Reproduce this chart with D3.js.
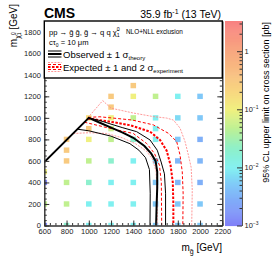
<!DOCTYPE html>
<html>
<head>
<meta charset="utf-8">
<script src="https://cdn.jsdelivr.net/npm/d3@7"></script>
<style>
  body { margin: 0; background: #fff; }
  svg { display: block; font-family: "Liberation Sans", Arial, Helvetica, sans-serif; }
</style>
</head>
<body>
<svg id="chart" width="274" height="263"></svg>
<script>
// Signal grid: gluino mass, neutralino mass, 95% CL upper limit (pb).
var cellMg = [
  600, 600, 600, 600,
  800, 800, 800, 800, 800, 800,
  1000, 1000, 1000, 1000, 1000, 1000, 1000,
  1200, 1200, 1200, 1200, 1200, 1200, 1200, 1200, 1200,
  1400, 1400, 1400, 1400, 1400, 1400, 1400, 1400,
  1600, 1600, 1600, 1600, 1600, 1600, 1600, 1600,
  1800, 1800, 1800, 1800, 1800, 1800, 1800,
  2000, 2000, 2000, 2000, 2000, 2000, 2000
];
var cellMchi = [
  0, 200, 400, 500,
  0, 200, 400, 600, 700, 800,
  0, 200, 400, 600, 800, 900, 1000,
  0, 200, 400, 600, 800, 900, 1000, 1100, 1200,
  0, 200, 400, 600, 800, 1000, 1200, 1300,
  0, 200, 400, 600, 800, 900, 1000, 1200,
  0, 200, 400, 600, 800, 1000, 1200,
  0, 200, 400, 600, 800, 1000, 1200
];
var cellLimit = [
  0.0013, 0.05, 0.0012, 0.1,
  0.02, 0.05, 0.05, 0.3, 0.3, 0.3,
  0.01, 0.01, 0.02, 0.05, 0.1, 0.3, 0.15,
  0.01, 0.01, 0.01, 0.02, 0.05, 0.06, 0.1, 0.3, 0.3,
  0.01, 0.01, 0.01, 0.01, 0.02, 0.05, 0.1, 0.3,
  0.005, 0.005, 0.005, 0.006, 0.01, 0.01, 0.01, 0.05,
  0.005, 0.005, 0.0035, 0.0035, 0.005, 0.007, 0.01,
  0.005, 0.005, 0.003, 0.0035, 0.003, 0.005, 0.005
];

// Exclusion contours as [m_gluino, m_neutralino] points.
var obsCurve = [[560, 550], [600, 590], [1000, 1000], [1100, 955], [1200, 910], [1300, 865], [1400, 815],
  [1500, 738], [1560, 670], [1600, 600], [1615, 500], [1615, 350], [1610, 200], [1605, 0]];
var obsUpCurve = [[995, 1000], [1100, 975], [1190, 945], [1300, 910], [1430, 872], [1550, 795],
  [1615, 700], [1650, 590], [1680, 480], [1690, 300], [1690, 0]];
var obsDownCurve = [[895, 895], [1000, 880], [1200, 830], [1370, 760], [1450, 700], [1510, 630],
  [1545, 520], [1552, 300], [1550, 0]];
var expCurve = [[990, 995], [1190, 965], [1370, 932], [1550, 872], [1640, 795], [1700, 695],
  [1735, 560], [1755, 400], [1760, 200], [1760, 0]];
var expUp1Curve = [[995, 1005], [1100, 1010], [1200, 1000], [1390, 980], [1580, 935], [1715, 857],
  [1790, 780], [1820, 655], [1840, 500], [1848, 300], [1845, 0]];
var expDown1Curve = [[960, 960], [1200, 900], [1400, 855], [1520, 762], [1590, 670], [1635, 560],
  [1652, 400], [1655, 0]];
var expUp2Curve = [[990, 1000], [1125, 1160], [1200, 1090], [1400, 1045], [1580, 1012], [1700, 998],
  [1760, 980], [1820, 905], [1865, 780], [1895, 655], [1920, 540], [1930, 330], [1925, 0]];
var expDown2Curve = [[860, 855], [1000, 862], [1160, 855], [1300, 815], [1420, 760], [1520, 690],
  [1575, 610], [1605, 500], [1615, 300], [1615, 0]];

// Axis ticks.
var xTicks = [600, 800, 1000, 1200, 1400, 1600, 1800, 2000, 2200];
var yTicks = [0, 200, 400, 600, 800, 1000, 1200, 1400, 1600, 1800];
var zTicks = [0.001, 0.01, 0.1, 1];
var zTickLabels = [['10', '\u22123'], ['10', '\u22122'], ['10', '\u22121'], ['1', '']];

// Palette stops along log10(limit).
var paletteStops = [-3, -2.6, -2.3, -2.0, -1.65, -1.3, -1.0, -0.7, -0.4, 0, 0.52];
var paletteColors = ['#8080f8', '#80a8f8', '#80c8f8', '#80f0f0', '#90f0c8', '#c0f090',
  '#f0f080', '#f8d880', '#f8c080', '#f8a880', '#f88080'];

var svg = d3.select('#chart');
var plotL = 44.3, plotR = 222.3, plotT = 21, plotB = 225.5;

var x = d3.scaleLinear().domain([600, 2200]).range([plotL, plotR]);
var y = d3.scaleLinear().domain([0, 1900]).range([plotB, plotT]);
var zMax = Math.pow(10, 0.52);
var z = d3.scaleLog().domain([0.001, zMax]).range([plotB, plotT]);
var palette = d3.scaleLinear().domain(paletteStops).range(paletteColors).clamp(true);
function color(v) { return palette(Math.log10(v)); }

svg.append('defs').append('clipPath').attr('id', 'plotclip')
  .append('rect').attr('x', plotL).attr('y', plotT).attr('width', plotR - plotL).attr('height', plotB - plotT);

var plot = svg.append('g').attr('clip-path', 'url(#plotclip)');

// Limit cells, 50 GeV bins centred on the grid points.
plot.selectAll('rect.cell')
  .data(d3.range(cellMg.length))
  .enter().append('rect')
    .attr('class', 'cell')
    .attr('x', function(i) { return x(cellMg[i] - 25); })
    .attr('y', function(i) { return y(cellMchi[i] + 25); })
    .attr('width', function(i) { return x(cellMg[i] + 25) - x(cellMg[i] - 25); })
    .attr('height', function(i) { return y(cellMchi[i] - 25) - y(cellMchi[i] + 25); })
    .attr('fill', function(i) { return color(cellLimit[i]); });

// Contours.
var line = d3.line().x(function(d) { return x(d[0]); }).y(function(d) { return y(d[1]); });
var curves = [
  { pts: expUp2Curve, stroke: '#ff8c8c', width: 0.9, dash: '2,1.2' },
  { pts: expDown2Curve, stroke: '#ff8c8c', width: 0.9, dash: '2,1.2' },
  { pts: expUp1Curve, stroke: '#ff0000', width: 1, dash: '3,2' },
  { pts: expDown1Curve, stroke: '#ff0000', width: 1, dash: '3,2' },
  { pts: expCurve, stroke: '#ff0000', width: 2, dash: '2.5,1.5' },
  { pts: obsUpCurve, stroke: '#000', width: 1, dash: null },
  { pts: obsDownCurve, stroke: '#000', width: 1, dash: null },
  { pts: obsCurve, stroke: '#000', width: 2, dash: null }
];
curves.forEach(function(c) {
  plot.append('path')
    .attr('d', line(c.pts))
    .attr('fill', 'none')
    .attr('stroke', c.stroke)
    .attr('stroke-width', c.width)
    .attr('stroke-dasharray', c.dash);
});

// Axes, with ROOT style ticks pointing inwards.
function styleAxis(g) {
  g.select('.domain').attr('stroke', '#333');
  g.selectAll('.tick line').attr('stroke', '#333');
  g.selectAll('.tick text').attr('font-size', '7.5px').attr('fill', '#222')
    .attr('font-family', '"Liberation Sans", Arial, sans-serif');
}
var xMinor = d3.range(600, 2201, 50);
var yMinor = d3.range(0, 1901, 50);
var fmt = d3.format('d');

svg.append('g').attr('transform', 'translate(0,' + plotB + ')')
  .call(d3.axisBottom(x).tickValues(xMinor).tickSize(-2.5).tickFormat('').tickSizeOuter(0)).call(styleAxis);
svg.append('g').attr('transform', 'translate(0,' + plotB + ')')
  .call(d3.axisBottom(x).tickValues(xTicks).tickSize(-5).tickPadding(3.5).tickFormat(fmt).tickSizeOuter(0)).call(styleAxis);
svg.append('g').attr('transform', 'translate(' + plotL + ',0)')
  .call(d3.axisLeft(y).tickValues(yMinor).tickSize(-2.5).tickFormat('').tickSizeOuter(0)).call(styleAxis);
svg.append('g').attr('transform', 'translate(' + plotL + ',0)')
  .call(d3.axisLeft(y).tickValues(yTicks).tickSize(-5).tickPadding(3.5).tickFormat(fmt).tickSizeOuter(0)).call(styleAxis);
svg.append('g').attr('transform', 'translate(' + plotR + ',0)')
  .call(d3.axisRight(y).tickValues(yMinor).tickSize(-2.5).tickFormat('').tickSizeOuter(0)).call(styleAxis);
svg.append('g').attr('transform', 'translate(' + plotR + ',0)')
  .call(d3.axisRight(y).tickValues(yTicks).tickSize(-5).tickFormat('').tickSizeOuter(0)).call(styleAxis);

// Legend box on top of the frame.
var leg = svg.append('g');
leg.append('rect').attr('x', plotL).attr('y', plotT).attr('width', plotR - plotL).attr('height', 57)
  .attr('fill', '#fff').attr('stroke', '#000').attr('stroke-width', 1.4);

var t1 = leg.append('text').attr('x', 49).attr('y', 34.5).attr('font-size', '7.6px');
t1.append('tspan').text('pp \u2192 g\u0303 g\u0303, g\u0303 \u2192 q q \u03c7\u0303');
t1.append('tspan').attr('font-size', '5.2px').attr('dy', -3.2).text('0');
t1.append('tspan').attr('font-size', '5.2px').attr('dx', -2.9).attr('dy', 5.4).text('1');
leg.append('text').attr('x', 126).attr('y', 34).attr('font-size', '6.4px').text('NLO+NLL exclusion');

var t2 = leg.append('text').attr('x', 49).attr('y', 45).attr('font-size', '7.6px');
t2.append('tspan').text('c\u03c4');
t2.append('tspan').attr('font-size', '5px').attr('dy', 1.5).text('0');
t2.append('tspan').attr('dy', -1.5).text(' = 10 \u03bcm');

// Observed symbol and label.
[[51, 1], [54, 2], [57, 1]].forEach(function(s) {
  leg.append('line').attr('x1', 48).attr('x2', 61.5).attr('y1', s[0]).attr('y2', s[0])
    .attr('stroke', '#000').attr('stroke-width', s[1]);
});
var t3 = leg.append('text').attr('x', 63).attr('y', 57.5).attr('font-size', '9.5px');
t3.append('tspan').text('Observed \u00b1 1 \u03c3');
t3.append('tspan').attr('font-size', '6px').attr('dy', 2.5).text('theory');

// Expected symbol and label.
[[62.5, '#ff8c8c', 0.9, '2,1.2'], [64.5, '#ff0000', 1, '3,2'], [67, '#ff0000', 2, '2.5,1.5'],
 [69.5, '#ff0000', 1, '3,2'], [71.5, '#ff8c8c', 0.9, '2,1.2']].forEach(function(s) {
  leg.append('line').attr('x1', 48).attr('x2', 61.5).attr('y1', s[0]).attr('y2', s[0])
    .attr('stroke', s[1]).attr('stroke-width', s[2]).attr('stroke-dasharray', s[3]);
});
var t4 = leg.append('text').attr('x', 63).attr('y', 70.5).attr('font-size', '9.5px');
t4.append('tspan').text('Expected \u00b1 1 and 2 \u03c3');
t4.append('tspan').attr('font-size', '6px').attr('dy', 2.5).text('experiment');

// Colour bar.
var barX = 225, barW = 17;
var steps = d3.range(0, 200);
var lzMin = -3, lzMax = 0.52;
svg.append('g').selectAll('rect')
  .data(steps)
  .enter().append('rect')
    .attr('x', barX)
    .attr('width', barW)
    .attr('y', function(i) { return z(Math.pow(10, lzMin + (i + 1) * (lzMax - lzMin) / steps.length)); })
    .attr('height', (plotB - plotT) / steps.length + 0.6)
    .attr('fill', function(i) { return palette(lzMin + (i + 0.5) * (lzMax - lzMin) / steps.length); });

var zMinor = [];
[0.001, 0.01, 0.1, 1].forEach(function(d) {
  for (var k = 2; k <= 9; k++) { if (d * k < zMax) zMinor.push(d * k); }
});
var zAxisG = svg.append('g').attr('transform', 'translate(' + (barX + barW) + ',0)');
zAxisG.call(d3.axisRight(z).tickValues(zMinor).tickSize(-2.5).tickFormat('').tickSizeOuter(0)).call(styleAxis);
zAxisG.append('g').call(d3.axisRight(z).tickValues(zTicks).tickSize(-5).tickFormat('').tickSizeOuter(0)).call(styleAxis);
zAxisG.selectAll('.domain').attr('stroke', '#555');

zTicks.forEach(function(v, i) {
  var t = svg.append('text').attr('x', barX + barW + 2.5).attr('y', z(v) + 2.7).attr('font-size', '7.5px').attr('fill', '#222');
  t.append('tspan').text(zTickLabels[i][0]);
  if (zTickLabels[i][1]) t.append('tspan').attr('font-size', '5px').attr('dy', -3.5).text(zTickLabels[i][1]);
});

// Titles.
svg.append('text').attr('x', 44).attr('y', 18).attr('font-size', '14px').attr('font-weight', 'bold').text('CMS');
var lumi = svg.append('text').attr('x', 221).attr('y', 18).attr('font-size', '10.5px').attr('text-anchor', 'end');
lumi.append('tspan').text('35.9 fb');
lumi.append('tspan').attr('font-size', '7px').attr('dy', -4).text('-1');
lumi.append('tspan').attr('dy', 4).text(' (13 TeV)');

var xt = svg.append('text').attr('x', 222).attr('y', 251).attr('font-size', '10px').attr('text-anchor', 'end');
xt.append('tspan').text('m');
xt.append('tspan').attr('font-size', '7px').attr('dy', 2.5).text('g\u0303');
xt.append('tspan').attr('dy', -2.5).text(' [GeV]');

var yt = svg.append('text').attr('transform', 'translate(17,4) rotate(-90)').attr('font-size', '10px').attr('text-anchor', 'end');
yt.append('tspan').text('m');
yt.append('tspan').attr('font-size', '7px').attr('dy', 2.5).text('\u03c7\u0303');
yt.append('tspan').attr('font-size', '5px').attr('dy', -5).text('0');
yt.append('tspan').attr('font-size', '5px').attr('dx', -2.8).attr('dy', 6).text('1');
yt.append('tspan').attr('dy', -3.5).text(' [GeV]');

svg.append('text').attr('transform', 'translate(269,22) rotate(-90)').attr('font-size', '9px')
  .attr('text-anchor', 'end').text('95% CL upper limit on cross section [pb]');
</script>
</body>
</html>
